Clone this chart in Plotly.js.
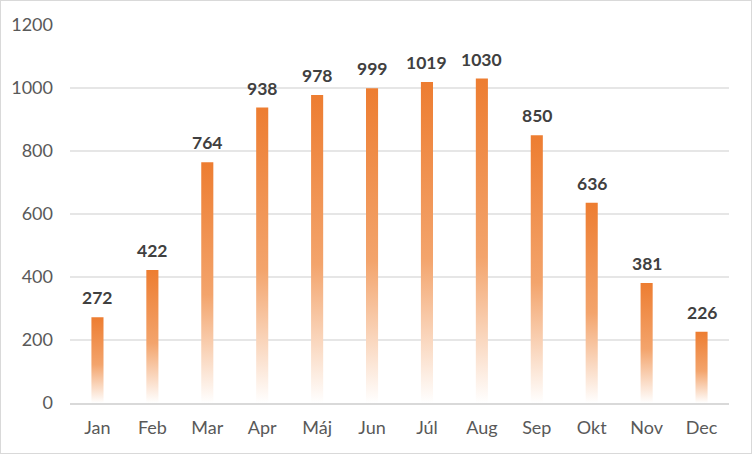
<!DOCTYPE html>
<html>
<head>
<meta charset="utf-8">
<script src="https://cdn.plot.ly/plotly-3.0.1.min.js"></script>
<style>
  html, body { margin: 0; padding: 0; background: #fff; }
  #chart { width: 750px; height: 452px; border: 1px solid #d9d9d9; }
</style>
</head>
<body>
<div id="chart"></div>
<script>
var months = ['Jan', 'Feb', 'Mar', 'Apr', 'Máj', 'Jun', 'Júl', 'Aug', 'Sep', 'Okt', 'Nov', 'Dec'];
var values = [272, 422, 764, 938, 978, 999, 1019, 1030, 850, 636, 381, 226];
var y_ticks = [0, 200, 400, 600, 800, 1000, 1200];

var trace = {
  x: months,
  y: values,
  type: 'bar',
  marker: {color: '#ED7D31', line: {width: 0}},
  cliponaxis: false,
  hoverinfo: 'x+y'
};

// value labels sit a bit higher above the bars than plotly's outside text does
var labels = months.map(function (m, i) {
  return {
    x: m,
    y: values[i],
    text: String(values[i]),
    showarrow: false,
    yanchor: 'bottom',
    yshift: 7,
    font: {family: 'Lato, sans-serif', size: 17.5, color: '#404040', weight: 'bold'}
  };
});

var layout = {
  width: 750,
  height: 452,
  margin: {l: 69, r: 22, t: 24, b: 50},
  paper_bgcolor: '#fff',
  plot_bgcolor: '#fff',
  showlegend: false,
  bargap: 0.78,
  font: {family: 'Lato, sans-serif', size: 18, color: '#595959'},
  annotations: labels,
  xaxis: {
    showgrid: false,
    showline: true,
    linecolor: '#d9d9d9',
    linewidth: 2,
    ticks: '',
    ticklabelstandoff: 7,
    tickfont: {size: 18, color: '#595959'}
  },
  yaxis: {
    range: [0, 1200],
    tickvals: y_ticks,
    showgrid: true,
    gridcolor: '#e6e6e6',
    gridwidth: 1.5,
    zeroline: false,
    showline: false,
    ticks: '',
    ticklabelstandoff: 16,
    tickfont: {size: 18, color: '#595959'}
  }
};

Plotly.newPlot('chart', [trace], layout, {displayModeBar: false, staticPlot: true}).then(function (gd) {
  // plotly bars have no gradient fill, so add one by hand
  var ns = 'http://www.w3.org/2000/svg';
  var defs = gd.querySelector('.main-svg defs');
  var grad = document.createElementNS(ns, 'linearGradient');
  grad.setAttribute('id', 'barfade');
  grad.setAttribute('x1', '0'); grad.setAttribute('y1', '0');
  grad.setAttribute('x2', '0'); grad.setAttribute('y2', '1');
  [['0', '#ED7D31'], ['0.55', '#F3A46C'], ['1', '#FFFFFF']].forEach(function (s) {
    var stop = document.createElementNS(ns, 'stop');
    stop.setAttribute('offset', s[0]);
    stop.setAttribute('stop-color', s[1]);
    grad.appendChild(stop);
  });
  defs.appendChild(grad);
  gd.querySelectorAll('.bars .point path').forEach(function (p) {
    p.style.fill = 'url(#barfade)';
  });
});
</script>
</body>
</html>
